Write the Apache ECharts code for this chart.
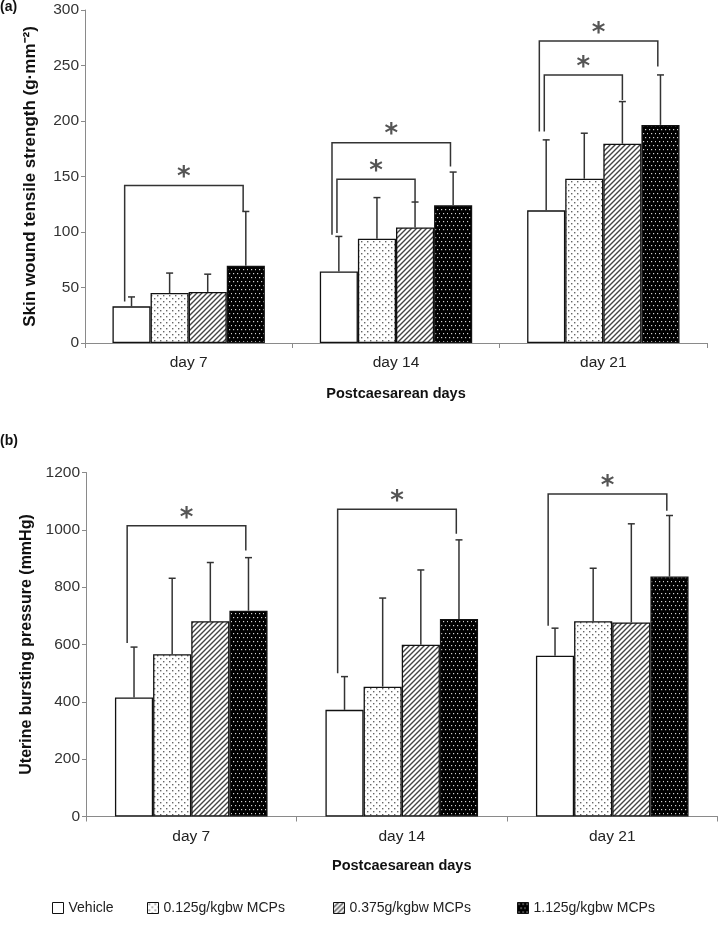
<!DOCTYPE html>
<html><head><meta charset="utf-8">
<script src="https://cdn.jsdelivr.net/npm/echarts@6/dist/echarts.min.js"></script>
<style>html,body{margin:0;padding:0;background:#fff}#c{width:720px;height:927px}</style>
</head><body><div id="c"></div>
<script>
// ---- data ----
const days = ['day 7', 'day 14', 'day 21'];
const groups = ['Vehicle', '0.125g/kgbw MCPs', '0.375g/kgbw MCPs', '1.125g/kgbw MCPs'];

// (a) skin wound tensile strength: means and upper error-bar ends
const skinVehicle = [33, 64.5, 119.5];
const skinLow = [45, 94, 148];
const skinMid = [46, 104, 179.5];
const skinHigh = [69.5, 124, 196.5];
const skinVehicleUp = [41.5, 96, 183];
const skinLowUp = [63, 131, 189];
const skinMidUp = [62, 127, 217.5];
const skinHighUp = [118.5, 154, 241.5];
// significance brackets: [day index, from group, to group, bracket level, left leg end, right leg end, inner?]
const skinBrackets = [
  [0, 0, 3, 142, 37.5, 118.5, 0],
  [1, 0, 3, 180.5, 97.5, 159, 0],
  [1, 0, 2, 147.5, 99, 127, 1],
  [2, 0, 3, 272, 190.5, 249, 0],
  [2, 0, 2, 241.5, 190.5, 219, 1]
];

// (b) uterine bursting pressure
const uterVehicle = [415, 372, 561];
const uterLow = [566, 453, 681];
const uterMid = [681, 599, 677];
const uterHigh = [718, 689, 837];
const uterVehicleUp = [591, 488, 657];
const uterLowUp = [831, 762, 866];
const uterMidUp = [886, 860, 1021];
const uterHighUp = [903, 965, 1050];
const uterBrackets = [
  [0, 0, 3, 1014, 605, 928, 0],
  [1, 0, 3, 1072, 500, 986, 0],
  [2, 0, 3, 1125, 665, 1067, 0]
];

// ---- patterns ----
function makeTile(w, h, draw) {
  const c = document.createElement('canvas'); c.width = w; c.height = h;
  const g = c.getContext('2d'); draw(g, w, h); return c;
}
const patDots = makeTile(6, 6, (g, w, h) => {
  g.fillStyle = '#fff'; g.fillRect(0, 0, w, h);
  g.fillStyle = '#666'; g.fillRect(1, 1, 1.4, 1.4); g.fillRect(4, 4, 1.4, 1.4);
});
const patHatch = makeTile(5, 5, (g, w, h) => {
  g.fillStyle = '#fff'; g.fillRect(0, 0, w, h);
  g.strokeStyle = '#444'; g.lineWidth = 1.4;
  g.beginPath(); g.moveTo(-1, 6); g.lineTo(6, -1);
  g.moveTo(-1, 1); g.lineTo(1, -1); g.moveTo(4, 6); g.lineTo(6, 4); g.stroke();
});
const patBlack = makeTile(8, 8, (g, w, h) => {
  g.fillStyle = '#000'; g.fillRect(0, 0, w, h);
  g.fillStyle = '#d0d0d0';
  g.fillRect(1, 1, 1.2, 1.2); g.fillRect(5, 1, 1.2, 1.2); g.fillRect(3, 5, 1.2, 1.2); g.fillRect(7, 5, 1.2, 1.2);
});
const fills = ['#ffffff', { image: patDots, repeat: 'repeat' }, { image: patHatch, repeat: 'repeat' }, { image: patBlack, repeat: 'repeat' }];

const FONT = 'Liberation Sans, Arial, Helvetica, sans-serif';
const GAP = [0.265, 0.275];

function barSeries(gi, vals) {
  return vals.map((v, i) => ({
    name: groups[i], type: 'bar', xAxisIndex: gi, yAxisIndex: gi,
    data: v, barGap: '0%', barCategoryGap: (GAP[gi] * 100) + '%',
    itemStyle: { color: fills[i], borderColor: '#111', borderWidth: 1.3 },
    emphasis: { disabled: true }, z: 2
  }));
}

function errSeries(gi, means, ups) {
  const data = [];
  means.forEach((arr, s) => arr.forEach((m, k) => data.push([k, m, s, ups[s][k]])));
  return {
    type: 'custom', xAxisIndex: gi, yAxisIndex: gi, z: 5, silent: true,
    data: data, encode: { x: 0, y: 1 },
    renderItem: function (params, api) {
      const cat = api.value(0), m = api.value(1), s = api.value(2), up = api.value(3);
      const band = api.size([1, 0])[0];
      const gw = band * (1 - GAP[gi]), bw = gw / 4;
      const c0 = api.coord([cat, m]), c1 = api.coord([cat, up]);
      const x = c0[0] - gw / 2 + bw * (s + 0.5);
      const st = { stroke: '#333', lineWidth: 1.5 };
      return { type: 'group', children: [
        { type: 'line', shape: { x1: x, y1: c0[1], x2: x, y2: c1[1] }, style: st },
        { type: 'line', shape: { x1: x - 3.5, y1: c1[1], x2: x + 3.5, y2: c1[1] }, style: st }
      ] };
    }
  };
}

function bracketSeries(gi, brackets) {
  return {
    type: 'custom', xAxisIndex: gi, yAxisIndex: gi, z: 6, silent: true,
    data: brackets.map(b => [b[0], b[3], b[1], b[2], b[4], b[5], b[6]]), encode: { x: 0, y: 1 },
    renderItem: function (params, api) {
      const cat = api.value(0), lvl = api.value(1), from = api.value(2), to = api.value(3);
      const le = api.value(4), re = api.value(5), inner = api.value(6);
      const band = api.size([1, 0])[0];
      const gw = band * (1 - GAP[gi]), bw = gw / 4;
      const c = api.coord([cat, lvl]);
      const left = c[0] - gw / 2;
      const xl = left + bw * (from + 0.5) + (inner ? -0.05 : -0.18) * bw;
      const xr = left + bw * (to + 0.5) + (inner ? 0 : -0.07) * bw;
      const yl = api.coord([cat, le])[1], yr = api.coord([cat, re])[1];
      const y = c[1];
      return { type: 'group', children: [
        { type: 'polyline', shape: { points: [[xl, yl], [xl, y], [xr, y], [xr, yr]] },
          style: { stroke: '#333', lineWidth: 1.5, fill: null } },
        { type: 'text', style: { text: '*', x: (xl + xr) / 2, y: y - 7, align: 'center', verticalAlign: 'middle',
          font: 'bold 26px DejaVu Sans', fill: '#555' } }
      ] };
    }
  };
}

const axisLineStyle = { lineStyle: { color: '#8a8a8a', width: 1 } };
function xAx(gi) {
  return {
    type: 'category', gridIndex: gi, data: days, boundaryGap: true,
    axisLine: axisLineStyle, axisTick: { show: true, length: 5, lineStyle: { color: '#8a8a8a' } },
    axisLabel: { fontSize: 15.5, color: '#222', margin: 12, fontFamily: FONT },
    name: 'Postcaesarean days', nameLocation: 'middle', nameGap: gi ? 42 : 43,
    nameTextStyle: { fontSize: 14.5, fontWeight: 'bold', color: '#111', fontFamily: FONT }
  };
}
function yAx(gi, max, interval, name, gap, fs) {
  return {
    type: 'value', gridIndex: gi, min: 0, max: max, interval: interval,
    axisLine: { show: true, ...axisLineStyle }, axisTick: { show: true, length: 4, lineStyle: { color: '#8a8a8a' } },
    splitLine: { show: false },
    axisLabel: { fontSize: 15.5, color: '#333', margin: 6, fontFamily: FONT, formatter: v => String(v) },
    name: name, nameLocation: 'middle', nameGap: gap,
    nameTextStyle: { fontSize: fs, fontWeight: 'bold', color: '#111', fontFamily: FONT }
  };
}

const legendPos = [52, 147, 333, 517];
const option = {
  animation: false,
  backgroundColor: '#fff',
  title: [
    { text: '(a)', left: 0, top: 0, padding: 0, textStyle: { fontSize: 14, fontWeight: 'bold', color: '#111', fontFamily: FONT } },
    { text: '(b)', left: 0, top: 434, padding: 0, textStyle: { fontSize: 14, fontWeight: 'bold', color: '#111', fontFamily: FONT } }
  ],
  grid: [
    { left: 85, top: 10, width: 622, height: 333 },
    { left: 86, top: 472.5, width: 631.5, height: 344 }
  ],
  xAxis: [xAx(0), xAx(1)],
  yAxis: [
    yAx(0, 300, 50, 'Skin wound tensile strength (g·mm⁻²)', 46, 17),
    yAx(1, 1200, 200, 'Uterine bursting pressure (mmHg)', 51, 16)
  ],
  legend: groups.map((g, i) => ({
    data: [g], left: legendPos[i], top: 901, padding: 0,
    icon: 'rect', itemWidth: 11, itemHeight: 11, itemGap: 0, selectedMode: false,
    itemStyle: { borderColor: '#111', borderWidth: 1 },
    textStyle: { fontSize: 14, color: '#222', fontFamily: FONT, padding: [0, 0, 0, 0] }
  })),
  series: [
    ...barSeries(0, [skinVehicle, skinLow, skinMid, skinHigh]),
    ...barSeries(1, [uterVehicle, uterLow, uterMid, uterHigh]),
    errSeries(0, [skinVehicle, skinLow, skinMid, skinHigh], [skinVehicleUp, skinLowUp, skinMidUp, skinHighUp]),
    errSeries(1, [uterVehicle, uterLow, uterMid, uterHigh], [uterVehicleUp, uterLowUp, uterMidUp, uterHighUp]),
    bracketSeries(0, skinBrackets),
    bracketSeries(1, uterBrackets)
  ]
};
const chart = echarts.init(document.getElementById('c'), null, { renderer: 'canvas' });
chart.setOption(option);
</script></body></html>
